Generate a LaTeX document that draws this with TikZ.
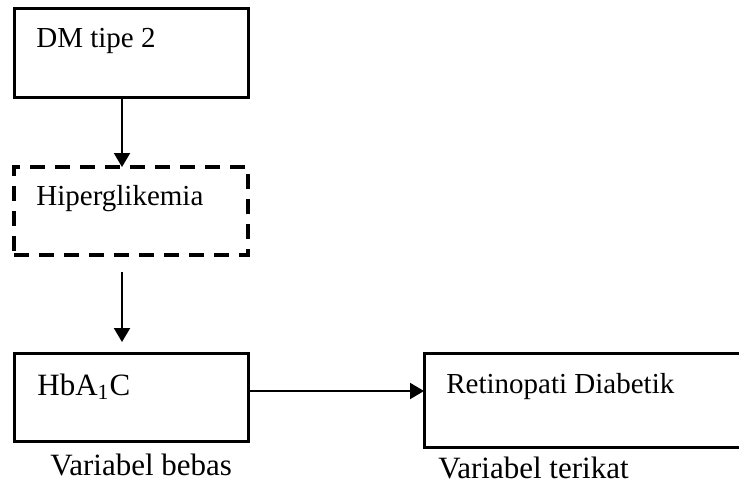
\documentclass[tikz,border=0pt]{standalone}
\usepackage{fontspec}
\setmainfont{Liberation Serif}
\usepackage{tikz}
\usetikzlibrary{arrows.meta,positioning}
\tikzset{
  kotak/.style      = {rectangle, draw=black, line width=1.5pt,
                       minimum width=117pt, minimum height=44pt,
                       inner sep=0pt, outer sep=0pt},
  kotakputus/.style = {kotak, line width=1.8pt,
                       dash pattern=on 7.5pt off 5pt},
  teks/.style       = {anchor=base west, inner sep=0pt,
                       font=\fontsize{14.5}{17}\selectfont},
  teksbesar/.style  = {teks, font=\fontsize{15.5}{18}\selectfont},
  panah/.style      = {-{Triangle[length=7pt,width=8pt]}, line width=1pt},
}

\begin{document}
\begin{tikzpicture}[x=0.5pt,y=-0.5pt, node distance=35pt]
    \path[use as bounding box, clip] (0,0) rectangle (739,484);

    % --- kotak
    \node[kotak, anchor=north west, minimum height=44.5pt] (dm) at (14,8) {};
    \node[kotakputus, below=of dm] (hip) {};
    \node[kotak, below=49pt of hip] (hba) {};
    \node[kotak, anchor=north west, minimum width=168.5pt, minimum height=47pt]
      (ret) at ([xshift=88pt]hba.north east) {};

    % --- teks
    \node[teks] (tdm) at ([shift={(11pt,-19.5pt)}]dm.north west) {DM tipe 2};
    \node[teks] (thip) at ([shift={(11pt,-19pt)}]hip.north west) {Hiperglikemia};
    \node[teksbesar] (thba) at ([shift={(11.5pt,-21pt)}]hba.north west)
      {HbA\textsubscript{1}C};
    \node[teks] (tret) at ([shift={(11pt,-20pt)}]ret.north west)
      {Retinopati Diabetik};
    \node[teksbesar] (bebas) at ([shift={(18pt,-17pt)}]hba.south west)
      {Variabel bebas};
    \node[teksbesar] (terikat) at ([shift={(7pt,-15.5pt)}]ret.south west)
      {Variabel terikat};

    % --- panah
    \draw[panah] ([xshift=-4.5pt]dm.south) -- ([xshift=-4.5pt]hip.north);
    \draw[panah, shorten <=8.5pt, shorten >=5.5pt]
      ([xshift=-4.5pt]hip.south) -- ([xshift=-4.5pt]hba.north);
    \draw[panah] ([yshift=3pt]hba.east) -- ([yshift=3pt]hba.east -| ret.west);
\end{tikzpicture}
\end{document}
